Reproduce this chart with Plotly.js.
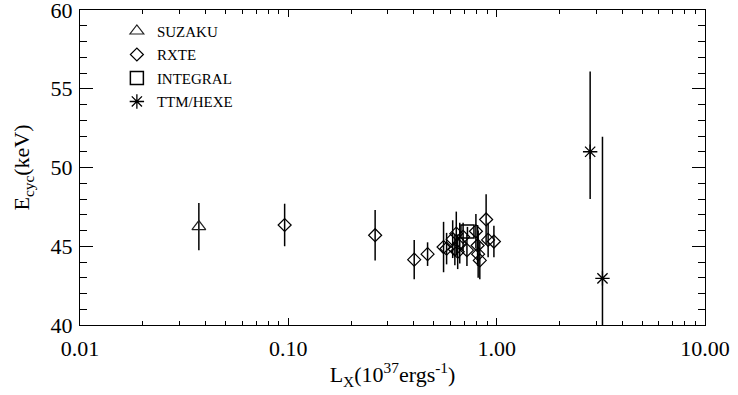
<!DOCTYPE html>
<html>
<head>
<meta charset="utf-8">
<script src="https://cdn.plot.ly/plotly-3.0.1.min.js"></script>
<style>html,body{margin:0;padding:0;background:#fff;}#chart{width:738px;height:395px;}</style>
</head>
<body>
<div id="chart"></div>
<script>
// SUZAKU
const suzakuL = [0.0372];
const suzakuE = [46.25];
const suzakuErr = [1.5];
// RXTE
const rxteL = [0.096, 0.261, 0.402, 0.466, 0.556, 0.575, 0.615, 0.63, 0.64, 0.65, 0.665, 0.69, 0.72, 0.795, 0.81, 0.815, 0.83, 0.89, 0.91, 0.97];
const rxteE = [46.35, 45.7, 44.15, 44.5, 44.95, 44.85, 45.45, 44.8, 45.8, 44.65, 45.2, 45.6, 44.75, 45.95, 45.05, 44.5, 44.1, 46.7, 45.4, 45.3];
const rxteErr = [1.35, 1.6, 1.25, 0.75, 1.6, 1.0, 1.2, 1.0, 1.4, 1.1, 1.3, 0.9, 1.0, 1.1, 1.3, 1.5, 1.2, 1.6, 1.1, 1.0];
// INTEGRAL
const integralL = [0.724];
const integralE = [45.93];
const integralErr = [0.3];
// TTM/HEXE
const ttmL = [2.81, 3.22];
const ttmE = [51.0, 42.96];
const ttmErrPlus = [5.1, 9.0];
const ttmErrMinus = [3.0, 9.0];
// axis ticks
const xTickVals = [0.01, 0.1, 1, 10];
const xTickText = ["0.01", "0.10", "1.00", "10.00"];
const yTickVals = [40, 45, 50, 55, 60];
const xMinor = [];
[0.01, 0.1, 1].forEach(function (d) { for (let k = 2; k <= 9; k++) xMinor.push(d * k); });

const serif = "Liberation Serif";
function errY(arr, minus) {
  const e = {type: 'data', array: arr, visible: true, color: '#000', thickness: 1.5, width: 0};
  if (minus) { e.symmetric = false; e.arrayminus = minus; }
  return e;
}
const traces = [
  {x: suzakuL, y: suzakuE, name: 'SUZAKU', legendgroup: 'a', mode: 'markers', type: 'scatter',
   error_y: errY(suzakuErr), marker: {symbol: 'triangle-up-open', size: 12, color: '#222', line: {width: 1.2, color: '#222'}}},
  {x: rxteL, y: rxteE, name: 'RXTE', legendgroup: 'b', mode: 'markers', type: 'scatter',
   error_y: errY(rxteErr), marker: {symbol: 'diamond-open', size: 10, color: '#000', line: {width: 1.2, color: '#000'}}},
  {x: integralL, y: integralE, name: 'INTEGRAL', legendgroup: 'c', mode: 'markers', type: 'scatter',
   error_y: errY(integralErr), marker: {symbol: 'square-open', size: 13, color: '#000', line: {width: 1.5, color: '#000'}}},
  {x: ttmL, y: ttmE, name: 'TTM/HEXE', legendgroup: 'd', mode: 'markers', type: 'scatter',
   error_y: errY(ttmErrPlus, ttmErrMinus), marker: {symbol: 'asterisk-open', size: 12, color: '#000', line: {width: 1.3, color: '#000'}}}
];
const layout = {
  width: 738, height: 395,
  margin: {l: 80, r: 33, t: 10, b: 70},
  paper_bgcolor: '#fff', plot_bgcolor: '#fff',
  font: {family: serif, color: '#000', size: 22},
  showlegend: true,
  legend: {x: 0.059, y: 0.985, xanchor: 'left', yanchor: 'top', bgcolor: 'rgba(0,0,0,0)',
           font: {family: serif, size: 15, color: '#000'}, traceorder: 'grouped', tracegroupgap: 1},
  xaxis: {type: 'log', range: [-2, 1], tickmode: 'array', tickvals: xTickVals, ticktext: xTickText,
          ticks: 'inside', ticklen: 7, tickwidth: 1, tickcolor: '#000',
          minor: {tickmode: 'array', tickvals: xMinor, ticks: 'inside', ticklen: 4, tickcolor: '#000', tickwidth: 1, showgrid: false},
          showline: true, linecolor: '#000', linewidth: 1, mirror: 'ticks', showgrid: false, zeroline: false,
          tickfont: {family: serif, size: 22, color: '#000'}, ticklabelstandoff: 4, ticklabeloverflow: 'allow',
          title: {text: 'L<sub>X</sub>(10<sup>37</sup>ergs<sup>-1</sup>)', font: {family: serif, size: 22, color: '#000'}, standoff: 6}},
  yaxis: {range: [40, 60], tickmode: 'array', tickvals: yTickVals,
          ticks: 'inside', ticklen: 13, tickwidth: 1, tickcolor: '#000',
          minor: {dtick: 1, ticks: 'inside', ticklen: 7, tickcolor: '#000', tickwidth: 1, showgrid: false},
          showline: true, linecolor: '#000', linewidth: 1, mirror: 'ticks', showgrid: false, zeroline: false,
          tickfont: {family: serif, size: 22, color: '#000'}, ticklabelstandoff: 2, ticklabeloverflow: 'allow',
          title: {text: 'E<sub>cyc</sub>(keV)', font: {family: serif, size: 22, color: '#000'}, standoff: 14}}
};
Plotly.newPlot('chart', traces, layout, {displayModeBar: false, staticPlot: true});
</script>
</body>
</html>
